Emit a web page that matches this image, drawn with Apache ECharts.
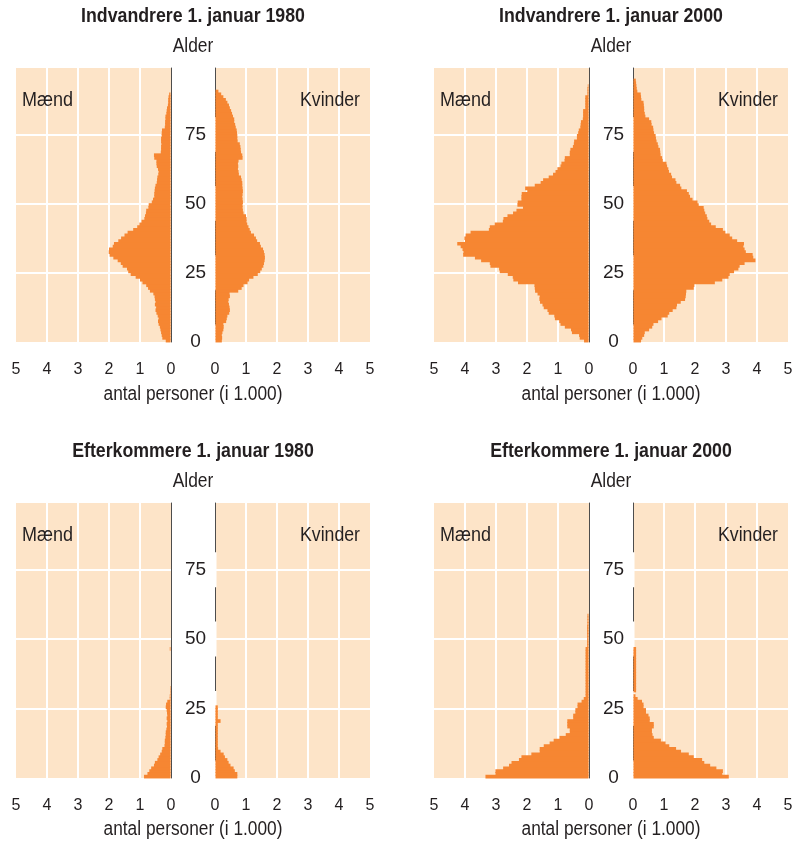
<!DOCTYPE html>
<html>
<head>
<meta charset="utf-8">
<script src="https://cdn.jsdelivr.net/npm/echarts@6/dist/echarts.min.js"></script>
<style>
  html, body { margin: 0; padding: 0; background: #ffffff; }
  #chart { width: 805px; height: 844px; }
</style>
</head>
<body>
<div id="chart"></div>
<script>
// Ages 0..98, one bar per year of age
const ages = Array.from({ length: 99 }, (_, i) => i);
const ageTicks = [0, 25, 50, 75];

const panelTitles = [
  'Indvandrere 1. januar 1980',
  'Indvandrere 1. januar 2000',
  'Efterkommere 1. januar 1980',
  'Efterkommere 1. januar 2000'
];

// Number of persons (thousands) by age
const menImm1980 = [
  0.17,0.28,0.30,0.32,0.34,0.36,0.40,0.42,0.40,0.43,
  0.47,0.50,0.48,0.52,0.50,0.52,0.53,0.57,0.68,0.74,
  0.80,0.92,1.00,1.14,1.30,1.38,1.42,1.56,1.62,1.72,
  1.86,1.98,2.01,2.00,1.88,1.84,1.70,1.61,1.50,1.40,
  1.22,1.09,1.02,0.95,0.86,0.84,0.81,0.80,0.73,0.72,
  0.62,0.58,0.54,0.54,0.53,0.52,0.50,0.46,0.45,0.44,
  0.41,0.40,0.42,0.46,0.47,0.47,0.54,0.55,0.33,0.32,
  0.32,0.31,0.32,0.32,0.30,0.30,0.29,0.20,0.19,0.19,
  0.18,0.18,0.15,0.14,0.13,0.10,0.09,0.09,0.08,0.06,
  0,0,0,0,0,0,0,0,0
];
const womenImm1980 = [
  0.22,0.23,0.22,0.24,0.27,0.28,0.27,0.36,0.38,0.40,
  0.46,0.48,0.47,0.45,0.43,0.44,0.48,0.47,0.75,0.86,
  0.92,1.05,1.10,1.24,1.38,1.46,1.51,1.56,1.58,1.60,
  1.61,1.60,1.58,1.55,1.48,1.45,1.36,1.32,1.26,1.16,
  1.12,1.08,1.04,1.02,1.02,1.00,0.92,0.90,0.89,0.89,
  0.90,0.89,0.88,0.89,0.90,0.89,0.88,0.88,0.86,0.84,
  0.77,0.76,0.74,0.75,0.74,0.76,0.89,0.88,0.84,0.83,
  0.82,0.80,0.73,0.72,0.72,0.71,0.70,0.67,0.65,0.62,
  0.62,0.58,0.55,0.52,0.48,0.45,0.40,0.35,0.27,0.20,
  0.11,0,0,0,0,0,0,0,0
];
const menImm2000 = [
  0.16,0.30,0.32,0.55,0.58,0.78,0.92,0.96,1.10,1.12,
  1.30,1.34,1.46,1.50,1.58,1.60,1.59,1.66,1.74,1.75,
  1.76,2.29,2.44,2.46,2.62,2.88,2.90,3.18,3.20,3.48,
  3.68,4.06,4.05,4.08,4.14,4.25,4.00,4.02,3.98,3.82,
  3.23,3.20,3.04,2.78,2.76,2.63,2.45,2.34,2.13,2.31,
  2.30,2.18,2.18,2.17,1.99,2.06,1.75,1.56,1.48,1.30,
  1.16,1.08,1.02,0.92,0.89,0.79,0.78,0.62,0.62,0.60,
  0.52,0.49,0.48,0.39,0.39,0.35,0.33,0.28,0.27,0.26,
  0.20,0.19,0.19,0.19,0.12,0.12,0.12,0.12,0.12,0.05,
  0.05,0.05,0.04,0,0,0,0,0,0
];
const womenImm2000 = [
  0.26,0.30,0.36,0.38,0.52,0.62,0.66,0.81,0.92,1.12,
  1.17,1.28,1.40,1.42,1.54,1.68,1.70,1.71,1.72,1.96,
  1.98,2.64,2.88,3.08,3.12,3.26,3.40,3.44,3.60,3.95,
  3.88,3.86,3.64,3.60,3.56,3.58,3.36,3.20,3.12,2.98,
  2.90,2.67,2.52,2.46,2.40,2.38,2.33,2.30,2.28,2.12,
  2.08,1.92,1.84,1.80,1.74,1.56,1.52,1.40,1.37,1.26,
  1.23,1.16,1.14,1.10,1.08,0.96,0.94,0.89,0.88,0.87,
  0.82,0.80,0.76,0.74,0.73,0.68,0.66,0.65,0.60,0.59,
  0.52,0.40,0.38,0.36,0.36,0.35,0.34,0.27,0.26,0.25,
  0.14,0.12,0.11,0.10,0.09,0,0,0,0
];
const menDesc1980 = [
  0.87,0.76,0.70,0.64,0.55,0.52,0.44,0.40,0.35,0.30,
  0.28,0.21,0.20,0.20,0.18,0.17,0.17,0.15,0.13,0.14,
  0.12,0.14,0.12,0.13,0.14,0.17,0.16,0.12,0.04,0.04,
  0.03,0.03,0.03,0,0,0,0,0,0,0,
  0,0,0,0,0,0,0.04,0,0,0,
  0,0,0,0,0,0,0,0,0,0,
  0,0,0,0,0,0,0,0,0,0,
  0,0,0,0,0,0,0,0,0,0,
  0,0,0,0,0,0,0,0,0,0,
  0,0,0,0,0,0,0,0,0
];
const womenDesc1980 = [
  0.72,0.72,0.64,0.60,0.50,0.44,0.40,0.32,0.28,0.18,
  0.10,0.09,0.09,0.09,0.09,0.09,0.09,0.09,0.09,0.09,
  0.18,0.09,0.09,0.09,0.09,0.09,0,0,0,0,
  0,0,0,0,0,0,0,0,0,0,
  0,0,0,0,0,0,0,0,0,0,
  0,0,0,0,0,0,0,0,0,0,
  0,0,0,0,0,0,0,0,0,0,
  0,0,0,0,0,0,0,0,0,0,
  0,0,0,0,0,0,0,0,0,0,
  0,0,0,0,0,0,0,0,0
];
const menDesc2000 = [
  3.34,3.02,3.02,2.77,2.58,2.50,2.26,2.18,1.86,1.59,
  1.59,1.46,1.27,1.14,0.95,0.75,0.62,0.62,0.70,0.70,
  0.70,0.51,0.51,0.44,0.44,0.37,0.37,0.24,0.17,0.11,
  0.11,0.11,0.11,0.11,0.11,0.11,0.11,0.11,0.11,0.11,
  0.11,0.11,0.11,0.11,0.11,0.11,0.11,0.06,0.06,0.06,
  0.06,0.06,0.06,0.06,0.06,0.05,0.05,0.05,0.05,0,
  0,0,0,0,0,0,0,0,0,0,
  0,0,0,0,0,0,0,0,0,0,
  0,0,0,0,0,0,0,0,0,0,
  0,0,0,0,0,0,0,0,0
];
const womenDesc2000 = [
  3.09,2.88,2.90,2.69,2.49,2.30,2.23,1.96,1.80,1.55,
  1.39,1.17,1.05,0.90,0.67,0.63,0.61,0.61,0.67,0.67,
  0.54,0.54,0.50,0.42,0.42,0.34,0.34,0.29,0.15,0.08,
  0.02,0.10,0.10,0.10,0.10,0.10,0.10,0.10,0.10,0.10,
  0.10,0.10,0.10,0.10,0.10,0.10,0.10,0,0,0,
  0,0,0,0,0,0,0,0,0,0,
  0,0,0,0,0,0,0,0,0,0,
  0,0,0,0,0,0,0,0,0,0,
  0,0,0,0,0,0,0,0,0,0,
  0,0,0,0,0,0,0,0,0
];

const panelData = [
  [menImm1980, womenImm1980],
  [menImm2000, womenImm2000],
  [menDesc1980, womenDesc1980],
  [menDesc2000, womenDesc2000]
];

// Look
const BG = '#FDE4C8';
const BAR = '#F68632';
const INK = '#231F20';
const AXIS_LINE = '#4D4D4D';
const FONT = '"Liberation Sans", Arial, sans-serif';

// Layout
const plotW = 155;
const panelX = [0, 418];
const panelY = [0, 435];
const plotTop = 68;
const plotH = [274, 275];

const grid = [], xAxis = [], yAxis = [], series = [], graphic = [];

function label(text, x, y, font, align, squeeze) {
  return {
    type: 'text', x, y, scaleX: squeeze, scaleY: 1, z: 100,
    style: {
      text, font, fill: INK,
      textAlign: align, align: align,
      textVerticalAlign: 'middle', verticalAlign: 'middle'
    }
  };
}

// One age bar: from 0 to the value along x, one category band high.
// Bands overlap by a fraction of a pixel so neighbouring bars join without seams;
// the bar stops half a pixel short of the centre line so that line stays visible.
function renderAgeBar(params, api) {
  const value = api.value(0);
  if (!value) return null;
  const age = api.value(1);
  const zero = api.coord([0, age]);
  const tip = api.coord([value, age]);
  const band = api.size([0, 1])[1];
  const dir = tip[0] >= zero[0] ? 1 : -1;
  const x0 = zero[0] + dir * 0.5;
  return {
    type: 'rect',
    shape: {
      x: Math.min(x0, tip[0]),
      y: zero[1] - band / 2 - 0.45,
      width: Math.abs(tip[0] - x0),
      height: band + 0.9
    },
    style: { fill: BAR }
  };
}

panelData.forEach((pair, p) => {
  const ox = panelX[p % 2];
  const oy = panelY[Math.floor(p / 2)];
  const h = plotH[Math.floor(p / 2)];
  const cx = 193 + ox;

  [0, 1].forEach(side => {
    const g = p * 2 + side;
    const isMen = side === 0;
    grid.push({
      left: (isMen ? 16 : 215) + ox,
      top: plotTop + oy,
      width: plotW,
      height: h,
      show: true,
      backgroundColor: BG,
      borderWidth: 0
    });
    xAxis.push({
      gridIndex: g,
      type: 'value',
      min: 0,
      max: 5,
      interval: 1,
      inverse: isMen,
      axisLine: { show: false },
      axisTick: { show: false },
      splitLine: {
        show: true,
        showMinLine: false,
        showMaxLine: false,
        lineStyle: { color: '#ffffff', width: 2 }
      },
      axisLabel: {
        show: true,
        margin: 20,
        fontSize: 16,
        fontFamily: FONT,
        color: INK
      }
    });
    // hidden category axis that places one bar per age
    yAxis.push({
      gridIndex: g,
      type: 'category',
      data: ages,
      show: false,
      position: isMen ? 'left' : 'right'
    });
    // age scale: dark centre line, white grid lines and the middle labels
    yAxis.push({
      gridIndex: g,
      type: 'value',
      min: 0,
      max: 99,
      interval: 25,
      position: isMen ? 'right' : 'left',
      axisLine: { show: true, lineStyle: { color: AXIS_LINE, width: 1 } },
      axisTick: { show: false },
      splitLine: {
        show: true,
        showMinLine: false,
        showMaxLine: false,
        lineStyle: { color: '#ffffff', width: 2 }
      },
      axisLabel: {
        show: !isMen,
        customValues: ageTicks,
        align: 'center',
        margin: 19.5,
        fontSize: 19,
        fontFamily: FONT,
        color: INK,
        backgroundColor: '#ffffff',
        width: 20,
        padding: [8, 11, 8, 11]
      }
    });
    series.push({
      type: 'custom',
      xAxisIndex: g,
      yAxisIndex: g * 2,
      data: pair[side].map((v, i) => [v, ages[i]]),
      encode: { x: 0, y: 1 },
      renderItem: renderAgeBar,
      silent: true
    });
  });

  graphic.push(label(panelTitles[p], cx, 16 + oy, 'bold 21px ' + FONT, 'center', 0.845));
  graphic.push(label('Alder', cx, 46 + oy, '20px ' + FONT, 'center', 0.87));
  graphic.push(label('antal personer (i 1.000)', cx, 394 + oy, '20px ' + FONT, 'center', 0.865));
  graphic.push(label('Mænd', 22 + ox, 100 + oy, '20px ' + FONT, 'left', 0.9));
  graphic.push(label('Kvinder', 360 + ox, 100 + oy, '20px ' + FONT, 'right', 0.885));
});

const chart = echarts.init(document.getElementById('chart'), null, { renderer: 'canvas' });
chart.setOption({
  animation: false,
  backgroundColor: '#ffffff',
  grid, xAxis, yAxis, series, graphic
});
</script>
</body>
</html>
